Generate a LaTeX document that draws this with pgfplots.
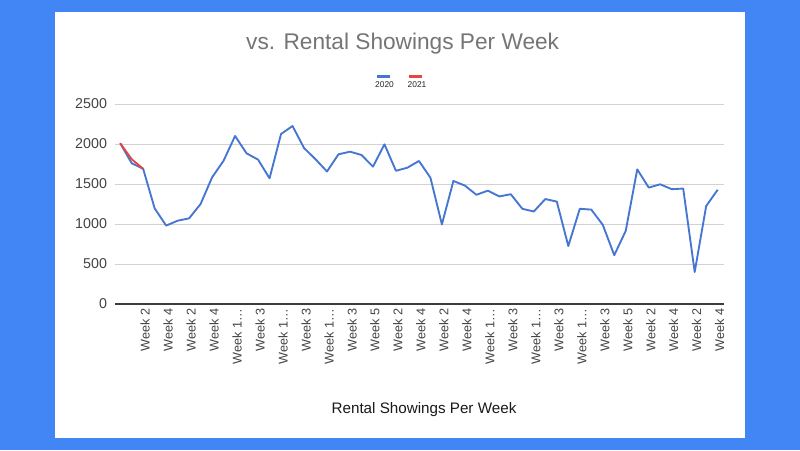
\documentclass[border=0pt]{standalone}
\usepackage{pgfplots}
\pgfplotsset{compat=1.18}
\usepackage{fontspec}
\setmainfont{Liberation Sans}

\definecolor{pagebg}{RGB}{66,133,244}
\definecolor{s2020}{RGB}{70,118,212}
\definecolor{s2021}{RGB}{230,70,60}
\definecolor{titlegray}{RGB}{117,117,117}
\definecolor{ticktext}{RGB}{68,68,68}
\definecolor{gridgray}{RGB}{210,210,210}
\definecolor{axisgray}{RGB}{60,60,60}

\begin{document}
\begin{tikzpicture}
% page background and white card
\fill[pagebg] (0pt,0pt) rectangle (600pt,337.5pt);
\fill[white] (41.25pt,9pt) rectangle (558.75pt,328.5pt);

% title
\node[text=titlegray, font=\fontsize{17}{20}\selectfont] at (302pt,304.5pt) {vs. Rental Showings Per Week};

% legend
\fill[s2020] (282.75pt,279pt) rectangle (292.5pt,281.25pt);
\fill[s2021] (306.75pt,279pt) rectangle (316.5pt,281.25pt);
\node[font=\fontsize{6.3}{7}\selectfont, text=black!85] at (288.4pt,274.3pt) {2020};
\node[font=\fontsize{6.3}{7}\selectfont, text=black!85] at (312.8pt,274.3pt) {2021};

% x-axis title
\node[font=\fontsize{11.4}{13}\selectfont, text=black!90] at (318pt,30.5pt) {Rental Showings Per Week};

\begin{axis}[
  at={(86.25pt,109.5pt)}, anchor=south west,
  scale only axis, width=456.75pt, height=150pt,
  xmin=-0.45, xmax=52.55, ymin=0, ymax=2500,
  axis x line*=bottom, axis y line*=left,
  y axis line style={draw=none},
  x axis line style={draw=axisgray, line width=0.9pt},
  ytick={0,500,...,2500},
  ymajorgrids, grid style={gridgray, line width=0.7pt},
  major tick length=0pt,
  /pgf/number format/assume math mode=true,
  /pgf/number format/1000 sep={},
  yticklabel style={font=\fontsize{10.7}{12}\selectfont, text=ticktext, xshift=-2.5pt},
  xtick={2,4,...,52},
  xticklabels={Week 2,Week 4,Week 2,Week 4,Week 1…,Week 3,Week 1…,Week 3,Week 1…,Week 3,Week 5,Week 2,Week 4,Week 2,Week 4,Week 1…,Week 3,Week 1…,Week 3,Week 1…,Week 3,Week 5,Week 2,Week 4,Week 2,Week 4},
  xticklabel style={rotate=90, anchor=east, font=\fontsize{9.5}{11}\selectfont, text=ticktext, yshift=-1.5pt},
  clip=false,
]
% 2020 series
\addplot[s2020, line width=1.4pt, line join=round, mark=none] coordinates {
  (0,2010) (1,1760) (2,1690) (3,1196) (4,980) (5,1041) (6,1071) (7,1250)
  (8,1583) (9,1791) (10,2100) (11,1883) (12,1805) (13,1571) (14,2125)
  (15,2225) (16,1950) (17,1810) (18,1656) (19,1871) (20,1904) (21,1863)
  (22,1717) (23,1996) (24,1665) (25,1704) (26,1788) (27,1579) (28,995)
  (29,1538) (30,1480) (31,1365) (32,1417) (33,1345) (34,1372) (35,1190)
  (36,1156) (37,1312) (38,1280) (39,725) (40,1190) (41,1180) (42,990)
  (43,610) (44,915) (45,1683) (46,1455) (47,1496) (48,1435) (49,1443)
  (50,400) (51,1225) (52,1428)
};
% 2021 series
\addplot[s2021, line width=1.4pt, line join=round, mark=none] coordinates {
  (0,2010) (1,1810) (2,1690)
};
\end{axis}
\end{tikzpicture}
\end{document}
